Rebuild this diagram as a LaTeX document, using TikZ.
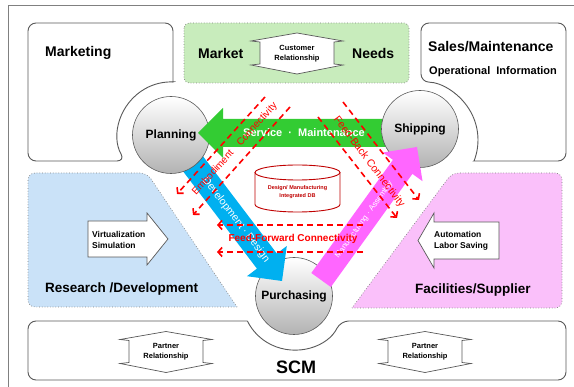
\documentclass[tikz,border=0pt]{standalone}
\usepackage{fontspec}
\setmainfont{Liberation Sans}
\usepackage{tikz}
\usetikzlibrary{arrows.meta}

\definecolor{svcgreen}{RGB}{51,204,51}
\definecolor{devblue}{RGB}{0,176,240}
\definecolor{mfgpink}{RGB}{255,102,255}
\definecolor{dbred}{RGB}{192,0,0}
\definecolor{boxgray}{RGB}{89,89,89}
\definecolor{mktfill}{RGB}{200,236,188}
\definecolor{rdfill}{RGB}{202,226,248}
\definecolor{fsfill}{RGB}{250,192,250}

\newcommand{\fsize}[2]{\fontsize{#1}{#2}\selectfont}
% up/down two-headed box with its label
\newcommand{\twoway}[3]{%
  \draw[outline,fill=white] #2 ++(0,-20.5) -- ++(46,8) -- ++(-9,1) -- ++(0,22)
    -- ++(9,1) -- ++(-46,9) -- ++(-46,-9) -- ++(9,-1) -- ++(0,-22) -- ++(-9,-1) -- cycle;
  \node[smalllabel] (#1) at #2 {#3};}
% broad arrow: colour, tip, direction, length, half body, half head
\newcommand{\blockarrow}[6]{%
  \fill[#1,shift={#2},rotate=#3] (0,0) -- (-#6,#6) -- (-#6,#5) -- (-#4,#5)
    -- (-#4,-#5) -- (-#6,-#5) -- (-#6,-#6) -- cycle;}

\begin{document}
\begin{tikzpicture}[x=1pt,y=-1pt,
    outline/.style={draw=boxgray,line width=0.7pt},
    bigbox/.style={draw=boxgray,line width=0.9pt,fill=white},
    region/.style={draw=gray,dotted,line width=0.7pt},
    station/.style={circle,draw=gray!70!black,line width=0.6pt,top color=white,
      bottom color=gray!60,minimum size=77pt,inner sep=0pt,font=\bfseries\fsize{12}{14}},
    conn/.style={red,line width=1.6pt,dash pattern=on 6pt off 4pt,
      -{Straight Barb[length=4pt,width=9pt]}},
    boxlabel/.style={font=\bfseries\fsize{14}{16},anchor=west,inner sep=1pt},
    smalllabel/.style={font=\bfseries\fsize{7.5}{10},align=center},
    arrowlabel/.style={font=\bfseries\fsize{8.5}{11},align=left,anchor=west,inner sep=1pt}]
  \useasboundingbox (0,0) rectangle (574,387);
  \clip (0,0) rectangle (574,387);
  \draw[gray,line width=1pt] (8,6) rectangle (580,395);

  % corner boxes, cut round the stations
  \draw[bigbox,rounded corners=8pt] (173,82) -- (173,23) -- (28,23) -- (28,161)
    -- (125,161) [sharp corners] arc[start angle=150.5,end angle=272.2,radius=53] -- cycle;
  \draw[bigbox,rounded corners=8pt] (474,161) -- (566,161) -- (566,23) -- (421,23)
    -- (421,82) [sharp corners] arc[start angle=-89,end angle=21.2,radius=58] -- cycle;
  \draw[bigbox,rounded corners=8pt] (247.4,321) -- (28,321) -- (28,380) -- (566,380)
    -- (566,321) -- (340.6,321) [sharp corners] arc[start angle=26.3,end angle=153.7,radius=52] -- cycle;

  % dotted fields
  \draw[region,fill=mktfill,rounded corners=5pt] (184,23) rectangle (409,83);
  \draw[region,fill=rdfill] (237,307) [rounded corners=7pt] -- (28,307) -- (28,173)
    -- (147,173) [sharp corners] -- cycle;
  \draw[region,fill=fsfill] (352,308) [rounded corners=7pt] -- (562,308) -- (562,173)
    -- (452,173) [sharp corners] -- cycle;

  \node[boxlabel] (MK) at (44,53) {Marketing};
  \node[boxlabel] (SM) at (427,47) {Sales/Maintenance};
  \node[boxlabel,font=\bfseries\fsize{11}{13}] (OI) at (428,72) {Operational\ \ Information};
  \node[boxlabel] (MN) at (197,54) {Market};
  \node[boxlabel] (ND) at (351,54) {Needs};
  \node[boxlabel,font=\bfseries\fsize{13.5}{16}] (RD) at (44,289) {Research /Development};
  \node[boxlabel,font=\bfseries\fsize{13.5}{16}] (FS) at (414,290) {Facilities/Supplier};
  \node[font=\bfseries\fsize{18}{20}] (SCM) at (296,367) {SCM};

  \twoway{CR}{(297,53.5)}{Customer\\Relationship}
  \twoway{PR1}{(166,352)}{Partner\\Relationship}
  \twoway{PR2}{(425,352)}{Partner\\Relationship}
  \draw[outline,fill=white] (88,221) -- (147,221) -- (147,213) -- (168,239)
    -- (147,265) -- (147,257) -- (88,257) -- cycle;
  \node[arrowlabel] (VS) at (91,239.5) {Virtualization\\Simulation};
  \draw[outline,fill=white] (499,222) -- (434,222) -- (434,213) -- (418,240.5)
    -- (434,268) -- (434,259) -- (499,259) -- cycle;
  \node[arrowlabel] (AL) at (433,241) {Automation\\Labor Saving};

  % integrated data base
  \draw[dbred,line width=0.9pt,fill=white] (255,172.5) -- (255,204.5)
    arc[start angle=180,end angle=0,x radius=42.5,y radius=7.5] -- (340,172.5);
  \draw[dbred,line width=0.9pt] (297.5,172.5) ellipse[x radius=42.5,y radius=7.5];
  \node[font=\bfseries\fsize{5.5}{7.5},text=dbred,align=center] (DB) at (297.5,192)
    {Design/ Manufacturing\\Integrated DB};

  % stations and the flows between them
  \node[station] (PU) at (294,296) {Purchasing};
  \blockarrow{devblue}{(282,281)}{-52.8}{183}{12.5}{25}
  \node[station] (PL) at (171,135) {Planning};
  \blockarrow{svcgreen}{(198,133)}{180}{202}{14}{25}
  \node[station] (SH) at (420,129) {Shipping};
  \blockarrow{mfgpink}{(417,147)}{54.2}{164}{12}{24.5}

  \node[white,font=\bfseries\fsize{11}{13}] (SVt) at (304,133) {Service\ \ ·\ \ Maintenance};
  \node[white,font=\fsize{10.5}{12},rotate=-52.8] (DVt) at (236,220) {Development\ ·\ Design};
  \node[white,font=\fsize{8}{10},rotate=54.2] (MFt) at (364,220) {Manufacturing\ ·\ Assembly};

  % connectivity
  \coordinate (EA1) at (265,97);  \coordinate (EA2) at (177,194);
  \coordinate (EB1) at (290,107); \coordinate (EB2) at (193,215);
  \coordinate (BA1) at (343,102); \coordinate (BA2) at (419,200);
  \coordinate (BB1) at (318,117); \coordinate (BB2) at (397,218);
  \coordinate (FA1) at (363,225); \coordinate (FA2) at (217,225);
  \coordinate (FB1) at (363,252); \coordinate (FB2) at (217,252);
  \foreach \a/\b in {EA1/EA2,EB1/EB2,BA1/BA2,BB1/BB2,FA1/FA2,FB1/FB2}
    \draw[conn] (\a) -- (\b);
  \node[red,font=\fsize{10}{12},rotate=47.6] (EC) at (235,149) {Embodiment\quad Connectivity};
  \node[red,font=\fsize{10.5}{12},rotate=-53] (BC) at (369,162) {Feed-Back Connectivity};
  \node[red,font=\bfseries\fsize{10}{12}] (FC) at (293,239) {Feed-Forward Connectivity};
\end{tikzpicture}
\end{document}
